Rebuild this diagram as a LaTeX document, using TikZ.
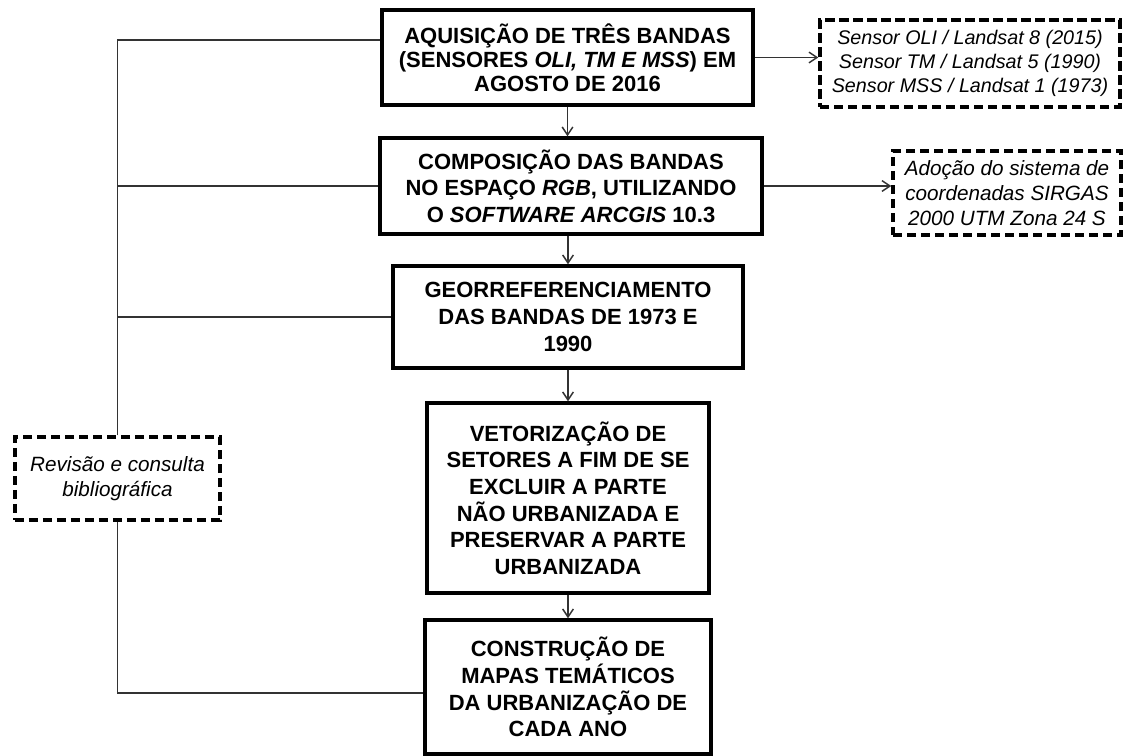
\documentclass[tikz,border=0pt]{standalone}
\usepackage{fontspec}
\setmainfont{Liberation Sans}
\usetikzlibrary{arrows.meta}

\tikzset{
    etapa/.style={draw, line width=2.6pt, align=center, inner sep=0pt,
        font=\bfseries\fontsize{16.5}{20}\selectfont},
    nota/.style={draw, dash pattern=on 7pt off 3.5pt, line width=2.6pt,
        align=center, inner sep=0pt, font=\itshape\fontsize{15.5}{18.5}\selectfont},
    liga/.style={line width=1.1pt, black!80},
    seta/.style={liga, -{Straight Barb[length=6pt,width=8pt]}}
}

\begin{document}
\begin{tikzpicture}[x=0.75pt,y=-0.75pt]

        \useasboundingbox (0,0) rectangle (1124,756);

        % etapas
        \node[etapa, minimum width=278pt, minimum height=71pt,
            font=\bfseries\fontsize{16.5}{18}\selectfont] (aquis) at (567.5,57.5)
            {AQUISIÇÃO DE TRÊS BANDAS\\(SENSORES \textit{OLI, TM E MSS}) EM\\AGOSTO DE 2016};
        \node[etapa, minimum width=286.5pt, minimum height=72pt] (compos) at (571,186)
            {COMPOSIÇÃO DAS BANDAS\\NO ESPAÇO \textit{RGB}, UTILIZANDO\\O \textit{SOFTWARE ARCGIS} 10.3};
        \node[etapa, minimum width=262.5pt, minimum height=76.5pt] (georref) at (568,317)
            {GEORREFERENCIAMENTO\\DAS BANDAS DE 1973 E\\1990};
        \node[etapa, minimum width=211.5pt, minimum height=142.5pt] (vetor) at (568,498)
            {VETORIZAÇÃO DE\\SETORES A FIM DE SE\\EXCLUIR A PARTE\\NÃO URBANIZADA E\\PRESERVAR A PARTE\\URBANIZADA};
        \node[etapa, minimum width=214.5pt, minimum height=100.5pt] (constr) at (568,687)
            {CONSTRUÇÃO DE\\MAPAS TEMÁTICOS\\DA URBANIZAÇÃO DE\\CADA ANO};

        % notas
        \node[nota, minimum width=225pt, minimum height=65pt,
            font=\itshape\fontsize{14.8}{18}\selectfont] (sensores) at (970,63.5)
            {Sensor OLI / Landsat 8 (2015)\\Sensor TM / Landsat 5 (1990)\\Sensor MSS / Landsat 1 (1973)};
        \node[nota, minimum width=171pt, minimum height=63pt] (adocao) at (1007,193)
            {Adoção do sistema de\\coordenadas SIRGAS\\2000 UTM Zona 24 S};
        \node[nota, minimum width=154pt, minimum height=62pt] (revisao) at (117.5,478.5)
            {Revisão e consulta\\bibliográfica};

        % fluxo principal
        \draw[seta] (aquis.south) -- (aquis.south |- compos.north);
        \draw[seta] (compos.south -| georref.north) -- (georref.north);
        \draw[seta] (georref.south) -- (vetor.north);
        \draw[seta] (vetor.south) -- (constr.north);

        \draw[seta] (aquis.east) -- (aquis.east -| sensores.west);
        \draw[seta] (compos.east) -- (compos.east -| adocao.west);

        % revisao
        \draw[liga] (revisao.north) |- (aquis.west |- 0,40);
        \draw[liga] (revisao.north |- compos.west) -- (compos.west);
        \draw[liga] (revisao.north |- georref.west) -- (georref.west);
        \draw[liga] (revisao.south) |- (constr.west |- 0,693);

\end{tikzpicture}
\end{document}
